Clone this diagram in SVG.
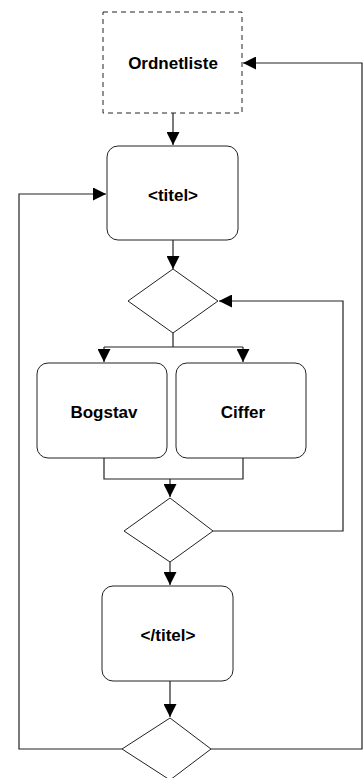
<svg xmlns="http://www.w3.org/2000/svg" width="363" height="778" viewBox="0 0 363 778">
  <style>
    .box { fill: #fff; stroke: #222; stroke-width: 1; }
    .dash { fill: #fff; stroke: #222; stroke-width: 1; stroke-dasharray: 5 4; }
    .dia { fill: #fff; stroke: #222; stroke-width: 1; }
    .line { fill: none; stroke: #222; stroke-width: 1.2; }
    .lbl { font-family: "Liberation Sans", Arial, sans-serif; font-size: 17px; font-weight: bold; fill: #000; text-anchor: middle; }
  </style>
  <defs>
    <marker id="arrow" viewBox="0 0 13 13" refX="13" refY="6.5" markerWidth="13" markerHeight="13" markerUnits="userSpaceOnUse" orient="auto">
      <path d="M0,0 L13,6.5 L0,13 Z" fill="#000"/>
    </marker>
  </defs>

  <g id="connectors">
    <!-- Ordnetliste -> <titel> -->
    <path class="line" d="M173,113 V145" marker-end="url(#arrow)"/>
    <!-- <titel> -> decision 1 -->
    <path class="line" d="M173,240 V269" marker-end="url(#arrow)"/>
    <!-- decision 1 split -->
    <path class="line" d="M173,333 V347"/>
    <path class="line" d="M104,347 H243"/>
    <path class="line" d="M104,347 V362" marker-end="url(#arrow)"/>
    <path class="line" d="M243,347 V362" marker-end="url(#arrow)"/>
    <!-- join into decision 2 -->
    <path class="line" d="M104,458 V479 H243 V458"/>
    <path class="line" d="M170,479 V497" marker-end="url(#arrow)"/>
    <!-- decision 2 loop back -->
    <path class="line" d="M213,531 H343 V301 H219" marker-end="url(#arrow)"/>
    <!-- decision 2 -> </titel> -->
    <path class="line" d="M170,562 V585" marker-end="url(#arrow)"/>
    <!-- </titel> -> decision 3 -->
    <path class="line" d="M170,681 V717" marker-end="url(#arrow)"/>
    <!-- decision 3 loop back to <titel> -->
    <path class="line" d="M122,749 H19 V194 H106" marker-end="url(#arrow)"/>
    <!-- decision 3 loop back to Ordnetliste -->
    <path class="line" d="M211,749 H362 V63 H243" marker-end="url(#arrow)"/>
  </g>

  <g id="ordnetliste">
    <rect class="dash" x="103" y="12" width="139" height="101"/>
    <text class="lbl" x="173" y="69">Ordnetliste</text>
  </g>

  <g id="titel-start">
    <rect class="box" x="107" y="146" width="131" height="94" rx="11"/>
    <text class="lbl" x="173" y="201">&lt;titel&gt;</text>
  </g>

  <g id="decision-1">
    <polygon class="dia" points="173,269 218,301 173,333 128,301"/>
  </g>

  <g id="bogstav">
    <rect class="box" x="37" y="363" width="130" height="95" rx="11"/>
    <text class="lbl" x="104" y="418">Bogstav</text>
  </g>

  <g id="ciffer">
    <rect class="box" x="176" y="363" width="130" height="95" rx="11"/>
    <text class="lbl" x="243" y="418">Ciffer</text>
  </g>

  <g id="decision-2">
    <polygon class="dia" points="170,498 213,531 170,562 124,531"/>
  </g>

  <g id="titel-end">
    <rect class="box" x="102" y="586" width="131" height="95" rx="11"/>
    <text class="lbl" x="168" y="641">&lt;/titel&gt;</text>
  </g>

  <g id="decision-3">
    <polygon class="dia" points="170,718 211,749 170,780 122,749"/>
  </g>
</svg>
